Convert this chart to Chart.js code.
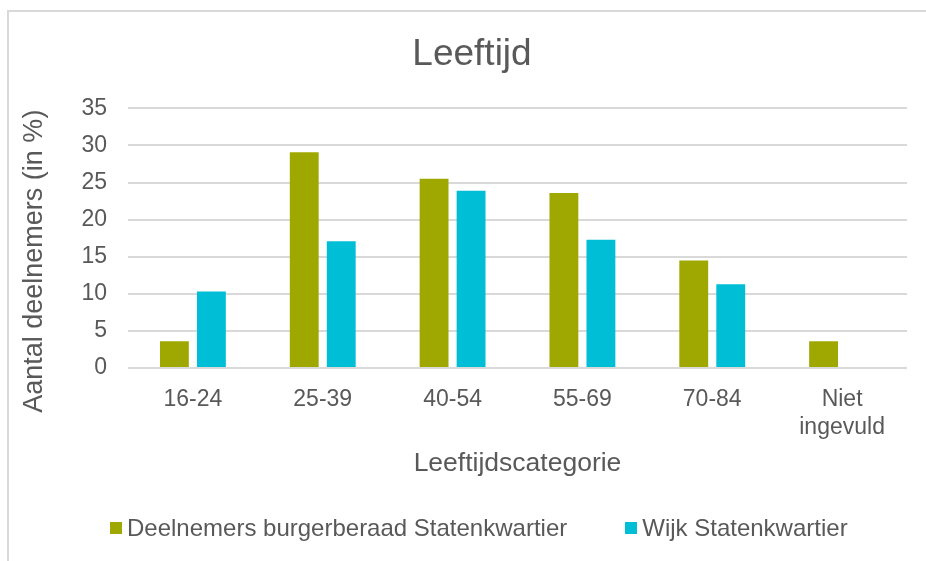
<!DOCTYPE html>
<html lang="nl">
<head>
<meta charset="utf-8">
<title>Leeftijd</title>
<script src="https://cdn.jsdelivr.net/npm/chart.js@4/dist/chart.umd.min.js"></script>
<style>
    html, body { margin: 0; padding: 0; background: #ffffff; overflow: hidden; }
    body { width: 926px; height: 561px; position: relative; font-family: 'Liberation Sans', Arial, sans-serif; }
    #frame { position: absolute; left: 7px; top: 10px; width: 1000px; height: 1000px; border: 2px solid #d9d9d9; }
    #chartBox { position: absolute; left: 0; top: 0; }
    #legend { position: absolute; left: 110px; top: 514px; display: flex; align-items: center; color: #595959; font-size: 24px; white-space: nowrap; }
    .item { display: flex; align-items: center; margin-right: 58px; }
    .swatch { width: 12px; height: 12px; margin-right: 5px; }
</style>
</head>
<body>
<div id="frame"></div>
<div id="chartBox"><canvas id="barChart" width="926" height="561"></canvas></div>
<div id="legend"></div>
<script>
const categories = ['16-24', '25-39', '40-54', '55-69', '70-84', ['Niet', 'ingevuld']];
const deelnemers = [3.6, 29.1, 25.5, 23.6, 14.5, 3.6];
const wijk = [10.3, 17.1, 23.9, 17.3, 11.3, null];
const yTicks = [0, 5, 10, 15, 20, 25, 30, 35];

const seriesNames = ['Deelnemers burgerberaad Statenkwartier', 'Wijk Statenkwartier'];
const seriesColors = ['#9fa800', '#00bed6'];

const textColor = '#595959';
const fontFamily = "'Liberation Sans', Arial, sans-serif";

// the y title sits a bit lower than the middle of the plot, as in the original
const lowerYTitle = {
    id: 'lowerYTitle',
    afterLayout(chart) {
        chart.scales.y.bottom += 46;
    }
};

const ctx = document.getElementById('barChart').getContext('2d');
const barChart = new Chart(ctx, {
    type: 'bar',
    data: {
        labels: categories,
        datasets: [
            { label: seriesNames[0], data: deelnemers, backgroundColor: seriesColors[0] },
            { label: seriesNames[1], data: wijk, backgroundColor: seriesColors[1] }
        ]
    },
    options: {
        responsive: false,
        animation: false,
        categoryPercentage: 0.57,
        barPercentage: 0.78,
        layout: { padding: { top: 10, left: 37, right: 19, bottom: 81 } },
        plugins: {
            legend: { display: false },
            tooltip: { enabled: false },
            title: {
                display: true,
                text: 'Leeftijd',
                color: textColor,
                font: { family: fontFamily, size: 37, weight: 'normal', lineHeight: 1.2 },
                padding: { top: 23, bottom: 31 }
            }
        },
        scales: {
            x: {
                grid: { display: false, drawTicks: false },
                border: { display: false },
                ticks: {
                    color: textColor,
                    padding: 18,
                    maxRotation: 0,
                    font: { family: fontFamily, size: 23, lineHeight: 1.2 }
                },
                title: {
                    display: true,
                    text: 'Leeftijdscategorie',
                    color: textColor,
                    font: { family: fontFamily, size: 26.5, lineHeight: 1.2 },
                    padding: { top: -11, bottom: 0 }
                }
            },
            y: {
                min: yTicks[0],
                max: yTicks[yTicks.length - 1],
                afterBuildTicks: function(scale) {
                    scale.ticks = yTicks.map(v => ({ value: v }));
                },
                grid: { color: '#d9d9d9', lineWidth: 2, drawTicks: false },
                border: { display: false },
                ticks: {
                    color: textColor,
                    padding: 21,
                    font: { family: fontFamily, size: 23, lineHeight: 1.2 }
                },
                title: {
                    display: true,
                    text: 'Aantal deelnemers (in %)',
                    color: textColor,
                    font: { family: fontFamily, size: 27, lineHeight: 1.2 },
                    padding: { top: -19, bottom: 10 }
                }
            }
        }
    },
    plugins: [lowerYTitle]
});

// HTML legend built from the datasets
const legend = document.getElementById('legend');
barChart.data.datasets.forEach(ds => {
    const item = document.createElement('div');
    item.className = 'item';
    item.innerHTML = `<span class="swatch" style="background:${ds.backgroundColor}"></span><span>${ds.label}</span>`;
    legend.appendChild(item);
});
</script>
</body>
</html>
